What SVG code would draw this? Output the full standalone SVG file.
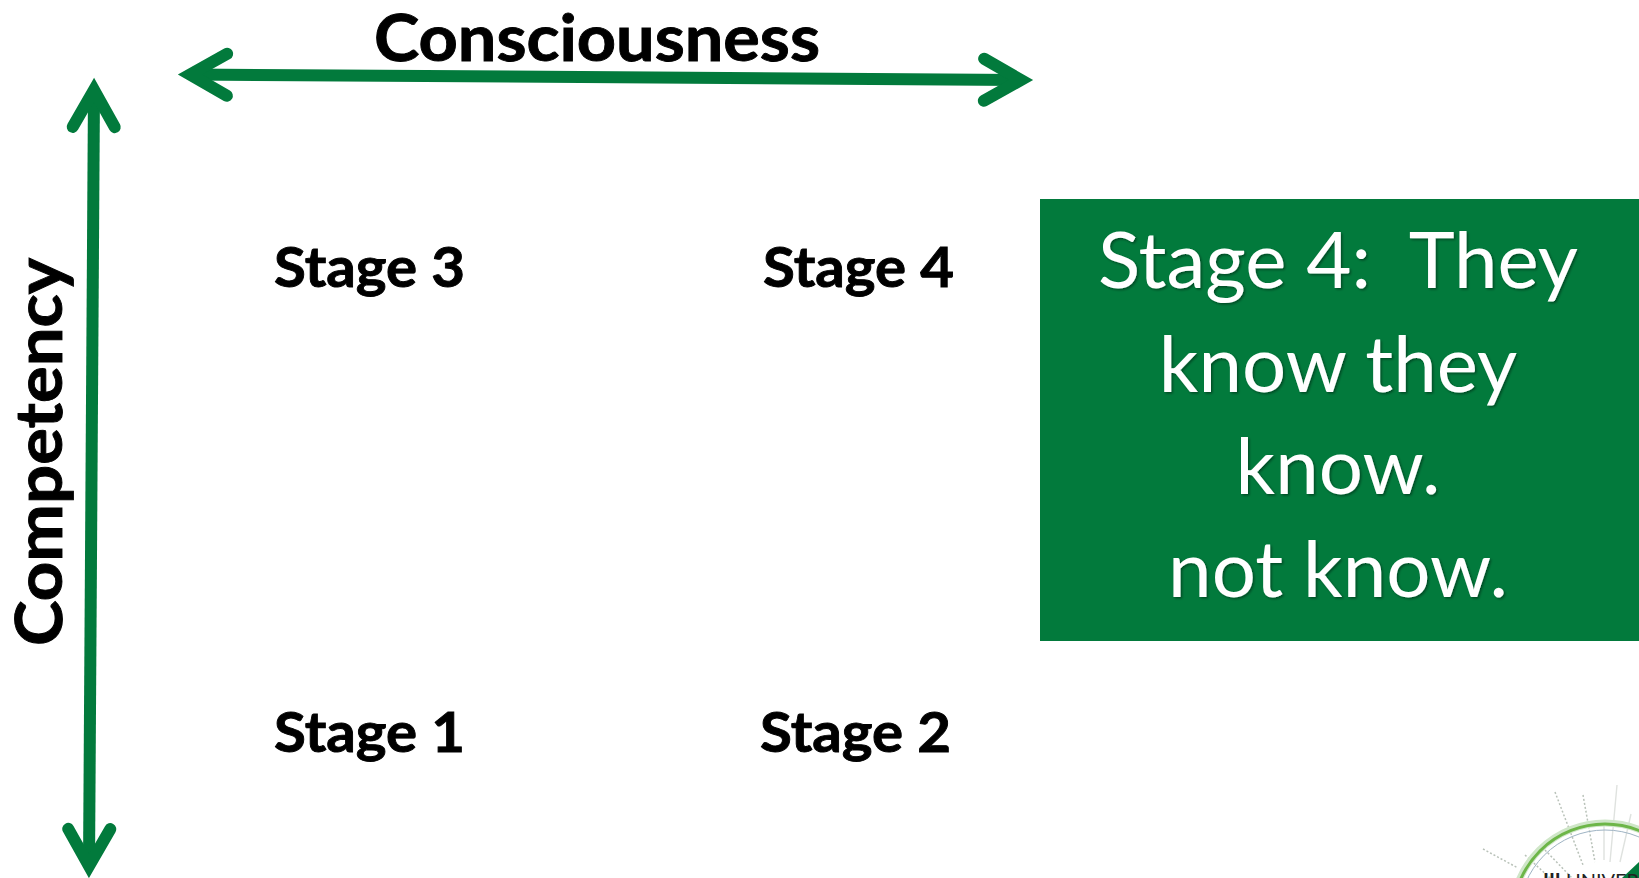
<svg xmlns="http://www.w3.org/2000/svg" width="1639" height="878" viewBox="0 0 1639 878">
<style>
text{font-family:"Lato","Carlito","Open Sans",sans-serif}
.lab{font-weight:700;font-size:65px;fill:#000;stroke:#000;stroke-width:.9}
.st{font-weight:700;font-size:56px;fill:#000;stroke:#000;stroke-width:.9}
.big{font-weight:400;font-size:78px;fill:#fff;text-anchor:middle;filter:url(#sh)}
.ax{fill:none;stroke:#027a3c;stroke-width:12;marker-start:url(#ah);marker-end:url(#ah)}
.dot{fill:none;stroke:#b9c2b9;stroke-width:1.5;stroke-dasharray:2 2}
.ray{fill:none;stroke:#dfe2df;stroke-width:1.4}
</style>
<defs>
<marker id="ah" markerUnits="userSpaceOnUse" viewBox="-60 -40 90 80" refX="0" refY="0" markerWidth="90" markerHeight="80" orient="auto-start-reverse">
<path d="M-37,-21L0,0L-37,21" fill="none" stroke="#027a3c" stroke-width="12" stroke-linecap="round" stroke-linejoin="miter" stroke-miterlimit="4"/>
</marker>
<filter id="sh" x="-5%" y="-5%" width="110%" height="115%"><feDropShadow dx="1.5" dy="1.5" stdDeviation="1" flood-color="#000" flood-opacity=".4"/></filter>
</defs>
<rect width="1639" height="878" fill="#fff"/>
<g id="connectors">
<line class="ax" x1="94" y1="90" x2="89" y2="866"/>
<line class="ax" x1="190" y1="74.5" x2="1021" y2="80"/>
</g>
<g id="consciousness"><text class="lab" x="374" y="61" textLength="446" lengthAdjust="spacingAndGlyphs">Consciousness</text></g>
<g id="competency"><text class="lab" transform="translate(62,646) rotate(-90)" textLength="388" lengthAdjust="spacingAndGlyphs">Competency</text></g>
<g id="stage3"><text class="st" x="274" y="287" textLength="191" lengthAdjust="spacingAndGlyphs">Stage 3</text></g>
<g id="stage4"><text class="st" x="763" y="287" textLength="191" lengthAdjust="spacingAndGlyphs">Stage 4</text></g>
<g id="stage1"><text class="st" x="274" y="752" textLength="191" lengthAdjust="spacingAndGlyphs">Stage 1</text></g>
<g id="stage2"><text class="st" x="760" y="752" textLength="191" lengthAdjust="spacingAndGlyphs">Stage 2</text></g>
<g id="stage4-box">
<rect x="1040" y="199" width="599" height="442" fill="#027a3c"/>
<text class="big" xml:space="preserve" x="1338" y="288" textLength="480" lengthAdjust="spacingAndGlyphs">Stage 4:  They</text>
<text class="big" x="1338" y="391.5">know they</text>
<text class="big" x="1338" y="494">know.</text>
<text class="big" x="1338" y="596.5">not know.</text>
</g>
<g id="logo">
<path class="dot" d="M1555,792L1583,865M1583,795L1595,862M1483,849L1518,868M1545,850L1572,878M1525,855L1550,878"/>
<path class="ray" d="M1617,785L1610,862M1631,814L1620,862M1604,826L1604,860"/>
<circle cx="1605" cy="916" r="93" fill="none" stroke="#cfe6c8" stroke-width="7"/>
<circle cx="1605" cy="916" r="92" fill="none" stroke="#6db648" stroke-width="3"/>
<circle cx="1605" cy="916" r="86" fill="none" stroke="#9fb4c4" stroke-width="1"/>
<path d="M1639,862L1622,878L1639,878Z" fill="#027a3c"/>
<text x="1543" y="888" font-family="Liberation Serif" font-size="20" fill="#222"><tspan font-weight="700">III</tspan> UNIVERS</text>
</g>
</svg>
